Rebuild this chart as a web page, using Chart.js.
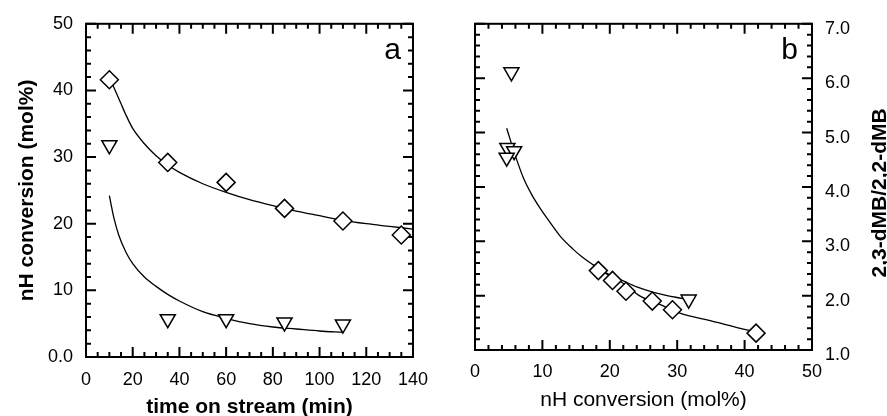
<!DOCTYPE html>
<html>
<head>
<meta charset="utf-8">
<script src="https://cdn.jsdelivr.net/npm/chart.js@4.4.0/dist/chart.umd.min.js"></script>
<style>
  html, body { margin: 0; padding: 0; background: #fff; overflow: hidden; }
  #wrap { position: relative; width: 887px; height: 416px; overflow: hidden; }
  #chartA { position: absolute; left: 0; top: 0; }
  #chartB { position: absolute; left: 440px; top: 0; }
</style>
</head>
<body>
<div id="wrap">
  <canvas id="chartA" width="440" height="430"></canvas>
  <canvas id="chartB" width="447" height="416"></canvas>
</div>
<script>
// panel a: conversion vs time on stream
const timeDiaA = [10, 35, 60, 85, 110, 135];
const convDiaA = [41.6, 29.2, 26.2, 22.3, 20.4, 18.3];
const timeTriA = [10, 35, 60, 85, 110];
const convTriA = [31.8, 5.7, 5.7, 5.2, 4.9];
// fitted curves
const fitDiaAx = [10, 12, 15, 17, 20, 25, 30, 35, 40, 50, 60, 70, 80, 90, 100, 110, 120, 130, 140];
const fitDiaAy = [42.0, 40.4, 38.0, 36.4, 34.3, 32.0, 30.2, 28.8, 27.7, 26.0, 24.7, 23.6, 22.7, 21.9, 21.2, 20.5, 20.0, 19.6, 19.2];
const fitTriAx = [10, 12, 14, 17, 20, 25, 30, 35, 40, 50, 60, 70, 80, 90, 100, 110];
const fitTriAy = [24.2, 20.8, 18.3, 15.8, 14.0, 12.0, 10.6, 9.4, 8.4, 6.8, 5.8, 5.0, 4.5, 4.2, 3.9, 3.7];
const xTicksA = ['0', '20', '40', '60', '80', '100', '120', '140'];
const yTicksA = ['0.0', '10', '20', '30', '40', '50'];

// panel b: 2,3-dMB/2,2-dMB ratio vs conversion
const convDiaB = [18.3, 20.4, 22.4, 26.3, 29.3, 41.7];
const ratioDiaB = [2.46, 2.28, 2.08, 1.90, 1.74, 1.31];
const convTriB = [5.4, 4.8, 5.8, 4.7, 31.7];
const ratioTriB = [6.11, 4.72, 4.66, 4.54, 1.93];
const fitTriBx = [4.7, 5.5, 6.3, 7.2, 8.5, 9.6, 11, 12.6, 14.5, 16, 17.5, 18.5, 20, 22, 24, 26.5, 28.5, 30.7, 31.5];
const fitTriBy = [5.08, 4.76, 4.46, 4.16, 3.84, 3.62, 3.37, 3.10, 2.86, 2.70, 2.57, 2.49, 2.38, 2.27, 2.16, 2.06, 2.00, 1.95, 1.93];
const fitDiaBx = [18.3, 20, 21.6, 24.5, 27.4, 30.4, 34.9, 40.3, 41.7];
const fitDiaBy = [2.50, 2.36, 2.26, 1.99, 1.84, 1.68, 1.54, 1.37, 1.33];
const xTicksB = ['0', '10', '20', '30', '40', '50'];
const yTicksB = ['1.0', '2.0', '3.0', '4.0', '5.0', '6.0', '7.0'];

Chart.defaults.font.family = '"Liberation Sans", Arial, sans-serif';
Chart.defaults.color = '#000';

const pts = (xs, ys) => xs.map((x, i) => ({x: x, y: ys[i]}));

// frame + inward ticks on all four sides
const frameTicks = {
  id: 'frameTicks',
  beforeDatasetsDraw(chart, args, opts) {
    const {ctx, chartArea: a, scales} = chart;
    ctx.save();
    ctx.strokeStyle = '#000';
    ctx.lineWidth = 2;
    ctx.strokeRect(a.left, a.top, a.right - a.left, a.bottom - a.top);
    for (const ax of opts.axes) {
      const s = scales[ax.id];
      const n = Math.round((s.max - s.min) / ax.minor);
      const every = Math.round(ax.major / ax.minor);
      ctx.beginPath();
      for (let i = 0; i <= n; i++) {
        const p = s.getPixelForValue(s.min + i * ax.minor);
        const len = i % every === 0 ? 10 : 5;
        if (s.isHorizontal()) {
          ctx.moveTo(p, a.bottom); ctx.lineTo(p, a.bottom - len);
          ctx.moveTo(p, a.top); ctx.lineTo(p, a.top + len);
        } else {
          ctx.moveTo(a.left, p); ctx.lineTo(a.left + len, p);
          ctx.moveTo(a.right, p); ctx.lineTo(a.right - len, p);
        }
      }
      ctx.stroke();
    }
    ctx.restore();
  },
  afterDraw(chart, args, opts) {
    const {ctx, chartArea: a} = chart;
    ctx.save();
    ctx.fillStyle = '#000';
    ctx.font = '30px "Liberation Sans", Arial, sans-serif';
    ctx.textAlign = 'right';
    ctx.textBaseline = 'alphabetic';
    ctx.fillText(opts.letter, a.right - opts.letterDx, a.top + 35);
    if (opts.sideTitle) {
      ctx.font = 'bold 21px "Liberation Sans", Arial, sans-serif';
      ctx.translate(a.right + 58, (a.top + a.bottom) / 2 + 6);
      ctx.rotate(-Math.PI / 2);
      ctx.textAlign = 'center';
      ctx.textBaseline = 'top';
      ctx.fillText(opts.sideTitle, 0, 0);
    }
    ctx.restore();
  }
};

const marker = (style, r) => ({
  showLine: false,
  pointStyle: style,
  pointRadius: r,
  pointRotation: style === 'triangle' ? 180 : 0,
  pointBorderWidth: 1.5,
  pointBorderColor: '#000',
  pointBackgroundColor: '#fff',
  clip: false
});
const curve = {
  showLine: true,
  pointRadius: 0,
  borderColor: '#000',
  borderWidth: 1.3,
  cubicInterpolationMode: 'monotone',
  clip: false
};
const tickFont = {size: 18};

new Chart(document.getElementById('chartA'), {
  type: 'scatter',
  data: {
    datasets: [
      {data: pts(timeDiaA, convDiaA), ...marker('rectRot', 9)},
      {data: pts(timeTriA, convTriA), ...marker('triangle', 8.7)},
      {data: pts(fitDiaAx, fitDiaAy), ...curve},
      {data: pts(fitTriAx, fitTriAy), ...curve}
    ]
  },
  options: {
    responsive: false,
    animation: false,
    events: [],
    layout: {padding: {top: 18, right: 16, left: 0, bottom: 0}},
    scales: {
      x: {
        type: 'linear', min: 0, max: 140,
        grid: {display: false, drawTicks: false, tickLength: 0},
        border: {display: false},
        ticks: {stepSize: 20, font: tickFont, padding: 12, callback: (v, i) => xTicksA[i]},
        title: {display: true, text: 'time on stream (min)', font: {size: 21, weight: 'bold'}, padding: {top: 0, bottom: 10}},
        afterFit: s => { s.height = 73; }
      },
      y: {
        type: 'linear', min: 0, max: 50,
        grid: {display: false, drawTicks: false, tickLength: 0},
        border: {display: false},
        ticks: {stepSize: 10, font: tickFont, padding: 13, callback: (v, i) => yTicksA[i]},
        title: {display: true, text: 'nH conversion (mol%)', font: {size: 21, weight: 'bold'}, padding: {top: 15, bottom: 0}},
        afterFit: s => { s.width = 86; }
      }
    },
    plugins: {
      legend: {display: false},
      tooltip: {enabled: false},
      frameTicks: {
        axes: [{id: 'x', major: 20, minor: 5}, {id: 'y', major: 10, minor: 2}],
        letter: 'a', letterDx: 12
      }
    }
  },
  plugins: [frameTicks]
});

new Chart(document.getElementById('chartB'), {
  type: 'scatter',
  data: {
    datasets: [
      {data: pts(convDiaB, ratioDiaB), ...marker('rectRot', 9)},
      {data: pts(convTriB, ratioTriB), ...marker('triangle', 8.7)},
      {data: pts(fitTriBx, fitTriBy), ...curve},
      {data: pts(fitDiaBx, fitDiaBy), ...curve}
    ]
  },
  options: {
    responsive: false,
    animation: false,
    events: [],
    layout: {padding: {top: 18, right: 0, left: 35, bottom: 0}},
    scales: {
      x: {
        type: 'linear', min: 0, max: 50,
        grid: {display: false, drawTicks: false, tickLength: 0},
        border: {display: false},
        ticks: {stepSize: 10, font: tickFont, padding: 11, callback: (v, i) => xTicksB[i]},
        title: {display: true, text: 'nH conversion (mol%)', font: {size: 21}, padding: {top: 0, bottom: 3}},
        afterFit: s => { s.height = 66; }
      },
      y: {
        type: 'linear', position: 'right', min: 1, max: 7,
        grid: {display: false, drawTicks: false, tickLength: 0},
        border: {display: false},
        ticks: {stepSize: 1, font: tickFont, padding: 13, labelOffset: 5, callback: (v, i) => yTicksB[i]},
        afterFit: s => { s.width = 75; }
      }
    },
    plugins: {
      legend: {display: false},
      tooltip: {enabled: false},
      frameTicks: {
        axes: [{id: 'x', major: 10, minor: 2}, {id: 'y', major: 1, minor: 0.2}],
        letter: 'b', letterDx: 14,
        sideTitle: '2,3-dMB/2,2-dMB'
      }
    }
  },
  plugins: [frameTicks]
});
</script>
</body>
</html>
